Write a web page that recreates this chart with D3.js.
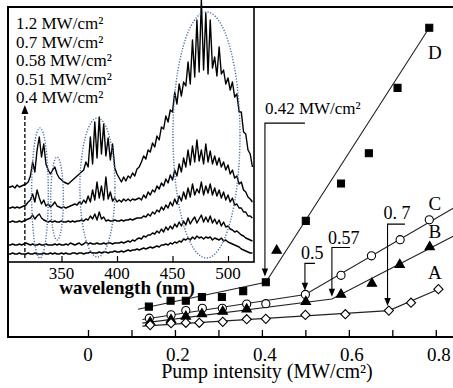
<!DOCTYPE html>
<html>
<head>
<meta charset="utf-8">
<script src="https://cdn.jsdelivr.net/npm/d3@7"></script>
<style>
  body { margin: 0; background: #fff; }
  svg { display: block; }
</style>
</head>
<body>
<div id="chart"></div>
<script>
// ---- main plot: emission intensity vs pump intensity (a.u.) ----
const pumpD = [0.14, 0.19, 0.225, 0.262, 0.308, 0.357, 0.409, 0.501, 0.582, 0.646, 0.712, 0.785];
const sigD  = [9.2, 11.0, 11.0, 12.1, 12.1, 13.9, 16.6, 35.2, 46.5, 55.7, 75.5, 93.7];
const pumpC = [0.141, 0.191, 0.225, 0.263, 0.309, 0.365, 0.409, 0.5, 0.582, 0.652, 0.718, 0.785];
const sigC  = [5.7, 6.7, 8.0, 8.7, 8.7, 10.0, 10.1, 12.9, 18.7, 24.6, 29.5, 35.5];
const pumpB = [0.143, 0.191, 0.225, 0.262, 0.31, 0.365, 0.434, 0.501, 0.582, 0.653, 0.717, 0.786];
const sigB  = [4.5, 5.2, 6.2, 7.0, 7.7, 8.4, 26.2, 10.7, 12.9, 16.2, 21.9, 27.3];
const pumpA = [0.143, 0.191, 0.225, 0.256, 0.31, 0.365, 0.409, 0.5, 0.592, 0.692, 0.743, 0.806];
const sigA  = [3.6, 4.2, 4.3, 4.3, 4.6, 5.4, 5.5, 6.7, 6.9, 8.0, 10.4, 14.5];

// two-segment linear fits: start, threshold kink, end
const fitD = [[0.115, 8.4], [0.409, 16.6], [0.785, 93.7]];
const fitC = [[0.125, 5.3], [0.5, 12.9], [0.84, 39.0]];
const fitB = [[0.125, 4.2], [0.561, 11.5], [0.84, 30.5]];
const fitA = [[0.125, 3.3], [0.692, 8.0], [0.806, 14.45]];

const seriesNames = ['D', 'C', 'B', 'A'];
const seriesLabelPos = [[0.798, 86], [0.798, 40.3], [0.798, 31.8], [0.798, 19.4]];

const thresholds = [
  { label: '0.42 MW/cm²', x: 0.407, barEnd: 0.499, bar: 64.8, tip: 18.3 },
  { label: '0.5',  x: 0.499, barEnd: 0.522, bar: 22.3, tip: 14.0 },
  { label: '0.57', x: 0.561, barEnd: 0.603, bar: 27.1, tip: 12.2 },
  { label: '0. 7', x: 0.689, barEnd: 0.729, bar: 34.2, tip: 9.4 }
];
const xTickLabels = [0, 0.2, 0.4, 0.6, 0.8];

// ---- inset: emission spectra at increasing pump intensity ----
const spectraLabels = ['1.2 MW/cm²', '0.7 MW/cm²', '0.58 MW/cm²', '0.51 MW/cm²', '0.4 MW/cm²'];
const s120 = [75,75,76,74,77,75,76,77,78,80, 86,100,90,112,125,105,118,98,92,88,
  92,95,88,84,82,80,79,78,80,82, 84,86,88,90,92,100,95,125,98,140,
  104,145,108,138,106,124,102,118,94,88, 84,80,85,81,86,84,89,86,93,95,
  100,106,103,112,110,119,115,126,122,135, 133,146,140,152,150,170,158,178,166,180,
  176,200,178,222,185,242,190,262,192,249, 188,242,194,205,186,215,188,192,178,184,
  172,180,165,168,150,150,130,128,112,108, 95];
const s070 = [54,54,55,54,55,54,55,56,57,60, 62,68,60,72,64,58,62,56,58,55,
  57,60,56,55,54,55,54,55,56,57, 58,57,60,58,62,59,66,60,72,62,
  80,64,76,62,85,63,70,61,64,60, 62,60,63,61,63,61,63,62,63,64,
  62,67,64,70,67,72,70,76,73,79, 76,83,79,87,82,92,86,98,90,104,
  95,112,97,116,100,122,101,112,98,118, 100,111,98,106,97,104,95,100,92,97,
  88,92,84,86,78,80,72,70,65,63, 60];
const s058 = [40,40,41,40,40,41,40,41,42,43, 44,47,43,46,48,44,42,41,40,41,
  40,41,40,40,41,40,40,41,40,41, 40,41,41,42,41,43,42,46,43,48,
  42,50,43,45,41,42,41,41,42,41, 41,42,41,42,42,43,42,43,44,44,
  44,46,45,48,46,50,48,52,50,55, 52,57,54,60,56,63,58,66,61,70,
  63,74,65,78,67,73,69,80,67,76, 69,78,67,74,66,72,64,70,62,67,
  60,64,57,58,54,54,50,50,46,46, 44];
const s051 = [17,17,18,17,17,18,17,18,19,18, 17,18,17,17,18,17,17,18,17,17,
  17,18,17,18,17,17,18,17,19,18, 17,18,19,17,18,20,18,19,18,18,
  19,18,18,19,18,19,19,18,19,19, 19,20,19,20,21,20,22,21,23,24,
  23,26,25,27,27,29,28,31,29,33, 30,35,32,36,33,38,35,40,36,41,
  37,44,38,42,45,39,43,47,40,45, 40,46,39,43,38,42,36,40,35,36,
  33,32,30,31,29,27,26,24,23,22, 21];
const s040 = [8,8,9,8,8,9,8,8,8,9, 8,8,9,8,8,8,9,8,8,9,
  8,9,8,8,9,8,9,8,8,9, 9,8,9,9,8,9,9,10,9,9,
  9,10,9,10,10,9,10,10,11,10, 10,11,10,11,12,11,12,12,13,12,
  13,14,13,14,15,14,15,16,15,17, 17,18,17,19,18,20,19,21,20,23,
  22,24,22,25,23,26,24,25,23,25, 24,25,22,24,23,22,24,21,22,20,
  19,18,17,16,15,13,12,11,10,9, 9];
const wavelengths = d3.range(302, 523, 2);
const insetTicks = [350, 400, 450, 500];
// dotted ellipses marking the lasing bands: centre nm, centre level, half-width nm, half-height
const bands = [[330.6, 69, 7.5, 65], [346, 63.5, 5.7, 41.5], [382.4, 74.5, 15.8, 69.5], [480.6, 127, 30.2, 123]];

// ---------------------------------------------------------------
const FONT = '"Liberation Serif", "DejaVu Serif", "Times New Roman", serif';
const W = 453, H = 388;
const frame = { left: 8, top: 7, bottom: 337 };
const svg = d3.select('#chart').append('svg')
  .attr('width', W).attr('height', H)
  .attr('font-family', FONT).style('font-family', FONT);
svg.append('rect').attr('width', W).attr('height', H).attr('fill', '#fff');

const x = d3.scaleLinear().domain([0, 0.8]).range([88, 435.8]);
const y = d3.scaleLinear().domain([0, 100]).range([frame.bottom, frame.top]);

// x axis: inward ticks every 0.1, labels every 0.2
const axis = svg.append('g').attr('transform', `translate(0,${frame.bottom})`)
  .call(d3.axisBottom(x).tickValues(d3.range(0, 0.81, 0.1)).tickSize(-7).tickSizeOuter(0).tickFormat(''));
axis.select('.domain').remove();
axis.attr('font-family', null);
axis.selectAll('.tick line').attr('stroke', '#000').attr('stroke-width', 1.3);

svg.append('g').selectAll('text').data(xTickLabels).join('text')
  .attr('x', d => x(d) + (d === 0 ? 0 : 3)).attr('y', 361)
  .attr('text-anchor', 'middle').attr('font-size', 19)
  .text(d => d === 0 ? '0' : d3.format('.1f')(d));

svg.append('text').attr('x', 267).attr('y', 378)
  .attr('text-anchor', 'middle').attr('font-size', 20)
  .text('Pump intensity (MW/cm²)');

// fit lines
const fits = [fitD, fitC, fitB, fitA];
const fitLine = d3.line().x(d => x(d[0])).y(d => y(d[1]));
svg.append('g').selectAll('path').data(fits).join('path')
  .attr('d', fitLine).attr('fill', 'none').attr('stroke', '#222').attr('stroke-width', 1.1);

// markers
const markers = [
  { pump: pumpD, sig: sigD, type: d3.symbolSquare, size: 49, fill: '#000', rot: 0 },
  { pump: pumpC, sig: sigC, type: d3.symbolCircle, size: 52, fill: '#fff', rot: 0 },
  { pump: pumpB, sig: sigB, type: d3.symbolTriangle, size: 38, fill: '#000', rot: 0 },
  { pump: pumpA, sig: sigA, type: d3.symbolSquare, size: 42, fill: '#fff', rot: 45 }
];
markers.forEach(m => {
  const sym = d3.symbol().type(m.type).size(m.size)();
  svg.append('g').selectAll('path').data(m.pump.map((p, i) => [p, m.sig[i]])).join('path')
    .attr('d', sym)
    .attr('transform', d => `translate(${x(d[0])},${y(d[1])}) rotate(${m.rot})`)
    .attr('fill', m.fill).attr('stroke', '#000').attr('stroke-width', 1.1);
});

// series letters
svg.append('g').selectAll('text').data(seriesNames).join('text')
  .attr('x', (d, i) => x(seriesLabelPos[i][0])).attr('y', (d, i) => y(seriesLabelPos[i][1]) + 6)
  .attr('text-anchor', 'middle').attr('font-size', 19).text(d => d);

// threshold brackets with arrows
const labelLift = [9, 4, 4, 5];
const ann = svg.append('g');
thresholds.forEach((t, i) => {
  const X = x(t.x), Yb = y(t.bar), Yt = y(t.tip);
  ann.append('path')
    .attr('d', `M${x(t.barEnd)},${Yb}H${X}V${Yt - 6}`)
    .attr('fill', 'none').attr('stroke', '#000').attr('stroke-width', 1.1);
  ann.append('path')
    .attr('d', `M${X},${Yt}L${X - 3.2},${Yt - 8}L${X + 3.2},${Yt - 8}Z`)
    .attr('fill', '#000');
  ann.append('text')
    .attr('x', i === 0 ? X : X - 4).attr('y', Yb - labelLift[i])
    .attr('font-size', i === 0 ? 17 : 18).text(t.label);
});

// ---- inset ----
const inset = { left: frame.left, right: 254, top: frame.top, bottom: 262 };
const xi = d3.scaleLinear().domain([350, 500]).range([61.5, 228]);
const yi = d3.scaleLinear().domain([0, 255]).range([inset.bottom, inset.top]);

const gi = svg.append('g');
gi.append('rect')
  .attr('x', inset.left).attr('y', inset.top)
  .attr('width', inset.right - inset.left).attr('height', inset.bottom - inset.top)
  .attr('fill', '#fff').attr('stroke', '#000').attr('stroke-width', 1.6);

const spectra = [s120, s070, s058, s051, s040];
const specLine = d3.line().x((d, i) => xi(wavelengths[i])).y(d => yi(d));
gi.append('g').selectAll('path').data(spectra).join('path')
  .attr('d', specLine).attr('fill', 'none')
  .attr('stroke', '#000').attr('stroke-width', 1.4).attr('stroke-linejoin', 'round');

gi.append('g').selectAll('ellipse').data(bands).join('ellipse')
  .attr('cx', d => xi(d[0])).attr('cy', d => yi(d[1]))
  .attr('rx', d => xi(d[0] + d[2]) - xi(d[0])).attr('ry', d => yi(0) - yi(d[3]))
  .attr('fill', 'none').attr('stroke', '#4a6ea9').attr('stroke-width', 1.4)
  .attr('stroke-dasharray', '1.2,1.6');

const ia = gi.append('g').attr('transform', `translate(0,${inset.bottom})`)
  .call(d3.axisBottom(xi).tickValues(insetTicks).tickSize(-6).tickSizeOuter(0).tickFormat(''));
ia.select('.domain').remove();
ia.attr('font-family', null);
ia.selectAll('.tick line').attr('stroke', '#000').attr('stroke-width', 1.2);
gi.append('g').selectAll('text').data(insetTicks).join('text')
  .attr('x', d => xi(d)).attr('y', 279)
  .attr('text-anchor', 'middle').attr('font-size', 17).text(d => d);
gi.append('text').attr('x', 127).attr('y', 294)
  .attr('text-anchor', 'middle').attr('font-size', 19).attr('font-weight', 'bold')
  .text('wavelength (nm)');

gi.append('g').selectAll('text').data(spectraLabels).join('text')
  .attr('x', 16).attr('y', (d, i) => 29 + i * 18.6)
  .attr('font-size', 17).text(d => d);

// dashed arrow: increasing pump intensity
const ax = xi(317);
gi.append('line').attr('x1', ax).attr('x2', ax).attr('y1', 258).attr('y2', 113)
  .attr('stroke', '#000').attr('stroke-width', 1.3).attr('stroke-dasharray', '4,2');
gi.append('path').attr('d', `M${ax},105L${ax - 3.5},114L${ax + 3.5},114Z`).attr('fill', '#000');

// ---- outer frame ----
svg.append('path')
  .attr('d', `M${W},${frame.top}H${frame.left}V${frame.bottom}H${W}`)
  .attr('fill', 'none').attr('stroke', '#000').attr('stroke-width', 2);
</script>
</body>
</html>
